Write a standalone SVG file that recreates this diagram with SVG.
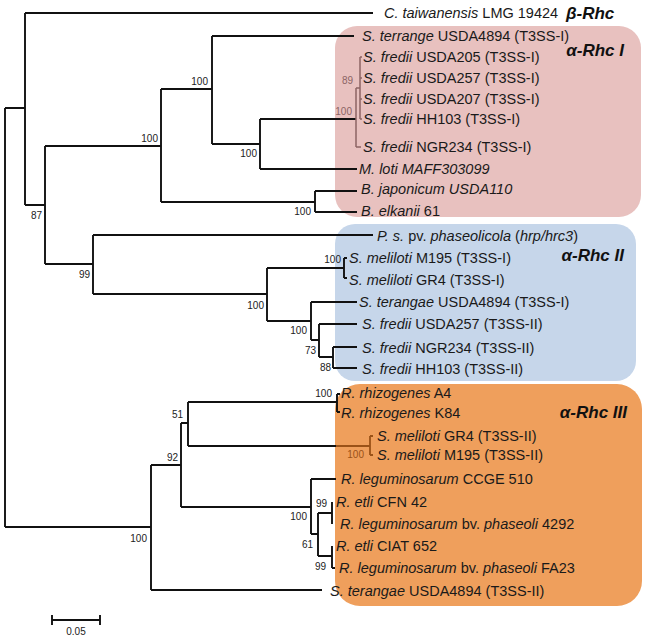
<svg xmlns="http://www.w3.org/2000/svg" width="645" height="638" viewBox="0 0 645 638">
<style>
.bg{fill:#ffffff}
.t{font-family:"Liberation Sans",Arial,sans-serif;font-size:14.5px;fill:#1a1a1a}
.i{font-style:italic}
.b{font-family:"Liberation Sans",Arial,sans-serif;font-size:10px;fill:#222222;text-anchor:end}
.g{font-family:"Liberation Sans",Arial,sans-serif;font-size:17px;font-weight:bold;font-style:italic;fill:#111111}
.ga{text-anchor:end}
.br{fill:none;stroke:#111111;stroke-width:1.9}
.pk{fill:none;stroke:#8c6464;stroke-width:1.5}
.pkt{fill:#8c6464}
.or{fill:none;stroke:#9a5218;stroke-width:1.8}
.ort{fill:#9a5218}
</style>
<rect class="bg" x="0" y="0" width="645" height="638"/>
<g id="boxes">
<rect id="box-rhc1" x="335" y="26" width="306" height="191" rx="22" fill="#e8c1bf"/>
<rect id="box-rhc2" x="335" y="224" width="301" height="157" rx="20" fill="#c6d6ea"/>
<rect id="box-rhc3" x="335" y="384" width="307" height="222" rx="25" fill="#ef9f5c"/>
</g>
<g id="connectors">
<path class="br" d="M5 108V527 M5 108H25 M25 13V205 M25 13H373 M25 205H45 M45 146V264 M45 146H161 M161 89V202 M161 89H212 M212 36V144 M212 36H354 M212 144H260 M260 119V169 M260 119H356 M260 169H357 M161 202H315 M315 191V212 M315 191H357 M315 212H357"/>
<path class="pk" d="M356 88V147 M356 88H360 M360 57V119 M360 57H362 M360 78H362 M360 99H362 M360 119H362 M356 147H361"/>
<path class="br" d="M45 264H93 M93 235V294 M93 235H373 M93 294H267 M267 268V321 M267 268H344 M344 258V278 M344 258H347 M344 278H347 M267 321H311 M311 302V340 M311 302H357 M311 340H319 M319 324V357 M319 324H357 M319 357H333 M333 347V368 M333 347H357 M333 368H357"/>
<path class="br" d="M5 527H151 M151 465V590 M151 590H322 M151 465H181 M181 423V507 M181 423H188 M188 402V446 M188 402H337 M337 394V412 M337 394H340 M337 412H340 M188 446H336 M181 507H311 M311 479V534 M311 479H336 M311 534H318 M318 513V556 M318 513H332 M332 502V524 M318 556H332 M332 546V568 M332 568H335"/>
<path class="or" d="M336 446H370 M370 436V455 M370 436H373 M370 455H373"/>
<path class="br" d="M52 620H100 M52 615V625 M100 615V625"/>
</g>
<g id="bootstrap">
<text class="b" x="42" y="219">87</text>
<text class="b" x="158" y="142">100</text>
<text class="b" x="208" y="85">100</text>
<text class="b" x="257" y="157">100</text>
<text class="b" x="311" y="215">100</text>
<text class="b pkt" x="353" y="84">89</text>
<text class="b pkt" x="352" y="115">100</text>
<text class="b" x="90" y="278">99</text>
<text class="b" x="264" y="309">100</text>
<text class="b" x="341" y="263">100</text>
<text class="b" x="307" y="334">100</text>
<text class="b" x="316" y="354">73</text>
<text class="b" x="331" y="371">88</text>
<text class="b" x="147" y="542">100</text>
<text class="b" x="178" y="461">92</text>
<text class="b" x="183" y="418">51</text>
<text class="b" x="332" y="397">100</text>
<text class="b ort" x="364" y="458">100</text>
<text class="b" x="327" y="507">99</text>
<text class="b" x="307" y="520">100</text>
<text class="b" x="313" y="548">61</text>
<text class="b" x="326" y="570">99</text>
<text class="b" x="76" y="635" style="text-anchor:middle">0.05</text>
</g>
<g id="groups">
<text class="g" x="566" y="19">β-Rhc</text>
<text class="g ga" x="624" y="56">α-Rhc I</text>
<text class="g ga" x="624" y="261">α-Rhc II</text>
<text class="g ga" x="627" y="418">α-Rhc III</text>
</g>
<g id="leaf-c-taiwanensis"><text class="t" x="384" y="18"><tspan class="i">C. taiwanensis</tspan> LMG 19424</text></g>
<g id="leaf-s-terrange-1"><text class="t" x="362" y="41"><tspan class="i">S. terrange</tspan> USDA4894 (T3SS-I)</text></g>
<g id="leaf-s-fredii-usda205"><text class="t" x="363" y="62"><tspan class="i">S. fredii</tspan> USDA205 (T3SS-I)</text></g>
<g id="leaf-s-fredii-usda257-1"><text class="t" x="363" y="83"><tspan class="i">S. fredii</tspan> USDA257 (T3SS-I)</text></g>
<g id="leaf-s-fredii-usda207"><text class="t" x="363" y="104"><tspan class="i">S. fredii</tspan> USDA207 (T3SS-I)</text></g>
<g id="leaf-s-fredii-hh103-1"><text class="t" x="363" y="124"><tspan class="i">S. fredii</tspan> HH103 (T3SS-I)</text></g>
<g id="leaf-s-fredii-ngr234-1"><text class="t" x="363" y="152"><tspan class="i">S. fredii</tspan> NGR234 (T3SS-I)</text></g>
<g id="leaf-m-loti"><text class="t i" x="359" y="174">M. loti MAFF303099</text></g>
<g id="leaf-b-japonicum"><text class="t i" x="361" y="194">B. japonicum  USDA110</text></g>
<g id="leaf-b-elkanii"><text class="t" x="361" y="216"><tspan class="i">B. elkanii</tspan> 61</text></g>
<g id="leaf-p-s-phaseolicola"><text class="t" x="377" y="241"><tspan class="i">P. s.</tspan> pv. <tspan class="i">phaseolicola</tspan> (<tspan class="i">hrp/hrc3</tspan>)</text></g>
<g id="leaf-s-meliloti-m195-1"><text class="t" x="349" y="263"><tspan class="i">S. meliloti</tspan> M195 (T3SS-I)</text></g>
<g id="leaf-s-meliloti-gr4-1"><text class="t" x="349" y="285"><tspan class="i">S. meliloti</tspan> GR4 (T3SS-I)</text></g>
<g id="leaf-s-terangae-1"><text class="t" x="359" y="307"><tspan class="i">S. terangae</tspan> USDA4894 (T3SS-I)</text></g>
<g id="leaf-s-fredii-usda257-2"><text class="t" x="362" y="329"><tspan class="i">S. fredii</tspan> USDA257 (T3SS-II)</text></g>
<g id="leaf-s-fredii-ngr234-2"><text class="t" x="362" y="353"><tspan class="i">S. fredii</tspan> NGR234 (T3SS-II)</text></g>
<g id="leaf-s-fredii-hh103-2"><text class="t" x="362" y="374"><tspan class="i">S. fredii</tspan> HH103 (T3SS-II)</text></g>
<g id="leaf-r-rhizogenes-a4"><text class="t" x="341" y="398"><tspan class="i">R. rhizogenes</tspan> A4</text></g>
<g id="leaf-r-rhizogenes-k84"><text class="t" x="341" y="418"><tspan class="i">R. rhizogenes</tspan> K84</text></g>
<g id="leaf-s-meliloti-gr4-2"><text class="t" x="377" y="441"><tspan class="i">S. meliloti</tspan> GR4 (T3SS-II)</text></g>
<g id="leaf-s-meliloti-m195-2"><text class="t" x="377" y="460"><tspan class="i">S. meliloti</tspan> M195 (T3SS-II)</text></g>
<g id="leaf-r-leguminosarum-ccge510"><text class="t" x="341" y="484"><tspan class="i">R. leguminosarum</tspan> CCGE 510</text></g>
<g id="leaf-r-etli-cfn42"><text class="t" x="336" y="507"><tspan class="i">R. etli</tspan> CFN 42</text></g>
<g id="leaf-r-leguminosarum-4292"><text class="t" x="340" y="529"><tspan class="i">R. leguminosarum</tspan> bv. <tspan class="i">phaseoli</tspan> 4292</text></g>
<g id="leaf-r-etli-ciat652"><text class="t" x="336" y="551"><tspan class="i">R. etli</tspan> CIAT 652</text></g>
<g id="leaf-r-leguminosarum-fa23"><text class="t" x="339" y="573"><tspan class="i">R. leguminosarum</tspan> bv. <tspan class="i">phaseoli</tspan> FA23</text></g>
<g id="leaf-s-terangae-2"><text class="t" x="330" y="596"><tspan class="i">S. terangae</tspan> USDA4894 (T3SS-II)</text></g>
</svg>
